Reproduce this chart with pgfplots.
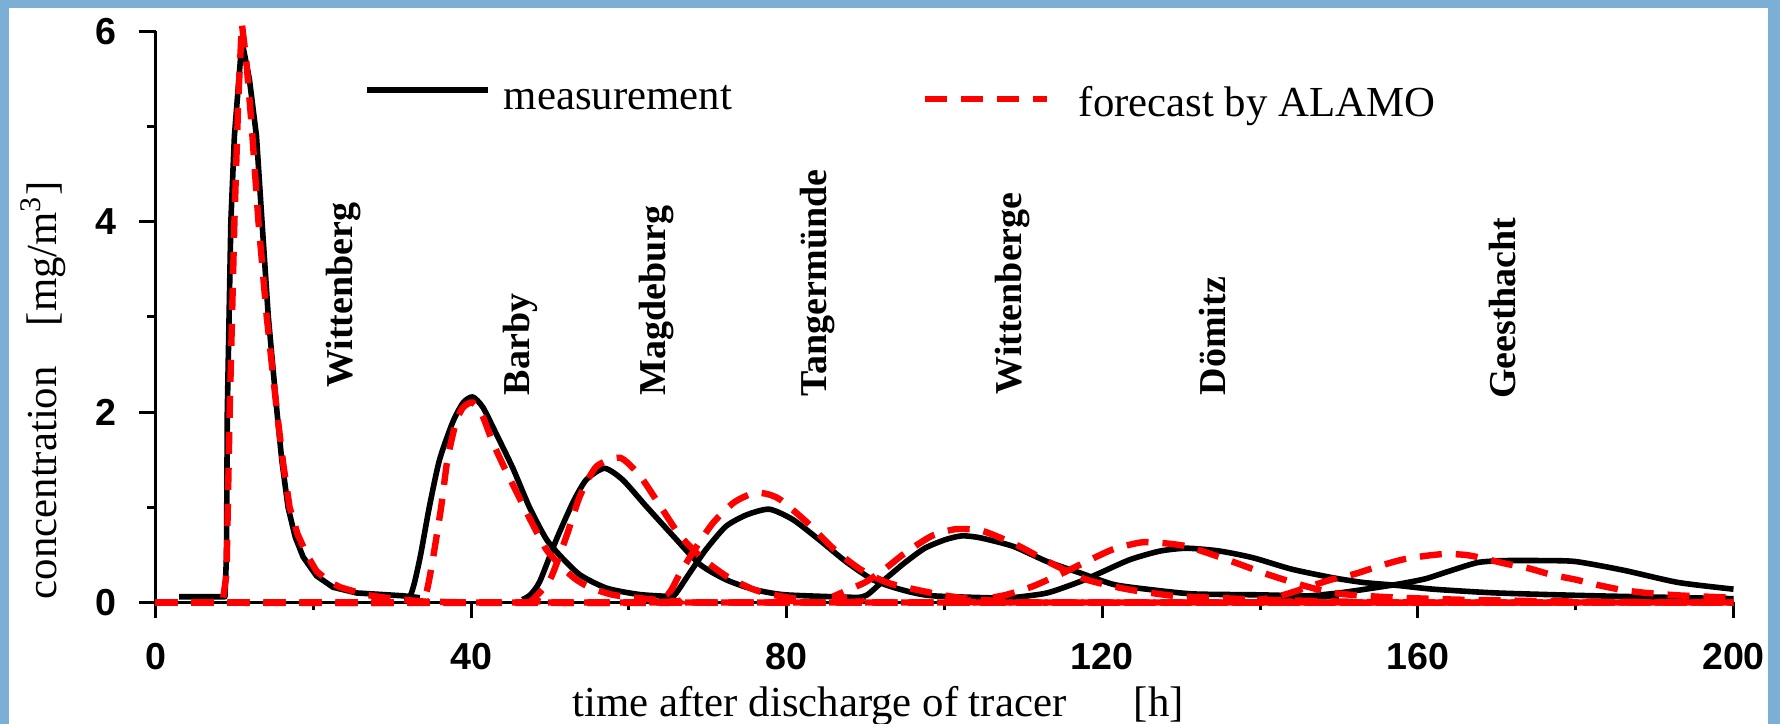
\documentclass[border=0pt]{standalone}
\usepackage{pgfplots}
\pgfplotsset{compat=1.18}
\usepackage{fontspec}
\setmainfont{Liberation Serif}
\newfontfamily\ticksans{Liberation Sans}
\definecolor{frameblue}{HTML}{7BAFD6}
\tikzset{
  meas/.style={black, line width=1.4pt, line join=round},
  fcst/.style={red, line width=1.6pt, dash pattern=on 5.5pt off 3.5pt},
  station/.style={rotate=90, anchor=base west, inner sep=0pt,
    font=\bfseries\fontsize{9.5}{10}\selectfont},
}
\begin{document}
\begin{tikzpicture}
% frame: 1780x724 px at 0.25pt per px
\fill[frameblue] (0,0) rectangle (445pt,181pt);
\fill[white] (2.25pt,0) rectangle (442pt,179.1pt);

\begin{axis}[
  at={(38.875pt,30.375pt)}, anchor=south west,
  scale only axis, width=394.5pt, height=142.75pt,
  xmin=0, xmax=200, ymin=0, ymax=6,
  axis lines=left, axis line style={-, line width=0.75pt},
  clip=false,
  xtick={0,40,...,200}, ytick={0,2,4,6},
  minor x tick num=1, minor y tick num=1,
  tick align=outside, major tick length=4pt, minor tick length=2pt,
  tick style={black, line width=0.75pt},
  ticklabel style={font=\ticksans\bfseries\fontsize{9.4}{10}\selectfont, inner sep=0pt},
  /pgf/number format/assume math mode=true,
  xticklabel style={anchor=north, yshift=-6pt},
  yticklabel style={anchor=east, xshift=-5.6pt},
]
% measurements
\addplot[meas] coordinates {(3,0.06) (8.8,0.06) (9.0,0.5) (9.1,2.0) (9.55,4.0) (10.0,4.9) (10.95,5.9) (11.9,5.5) (12.8,4.9) (13.5,4.0) (14.3,3.0) (15.4,2.0) (16.0,1.5) (16.8,1.0) (17.7,0.69) (18.7,0.48) (20.4,0.28) (22.5,0.16) (25.5,0.1) (31.4,0.07) (33.5,0.05)};
\addplot[meas, smooth, tension=0.4] coordinates {(31.5,0.03) (32.2,0.05) (32.8,0.2) (33.6,0.5) (34.7,1.0) (36,1.5) (37.7,1.9) (39,2.1) (40.2,2.16) (41.5,2.05) (43.2,1.77) (45.3,1.41) (47.4,1.0) (49.5,0.67) (51.3,0.49) (53.8,0.29) (57.2,0.15) (61.4,0.083) (66,0.06)};
\addplot[meas, smooth, tension=0.4] coordinates {(46.5,0.03) (47.5,0.08) (48.7,0.22) (50.8,0.66) (52.9,1.05) (54.6,1.29) (56.9,1.41) (59.2,1.29) (62.2,1.01) (65.6,0.70) (69,0.40) (72.3,0.24) (75.7,0.14) (79.9,0.08) (90,0.05)};
\addplot[meas, smooth, tension=0.4] coordinates {(64.5,0.04) (65.8,0.08) (67.7,0.31) (69.8,0.56) (72.3,0.80) (74.9,0.92) (77.8,0.98) (80.8,0.87) (84.1,0.66) (87.5,0.43) (90.9,0.24) (94.3,0.14) (98.5,0.07) (110,0.04)};
\addplot[meas, smooth, tension=0.4] coordinates {(88.5,0.04) (90.2,0.08) (92.4,0.24) (95,0.42) (97.5,0.57) (100.1,0.66) (102.2,0.70) (104.5,0.68) (108.7,0.59) (113,0.43) (117.2,0.31) (121.4,0.19) (125.6,0.14) (131.5,0.09) (140,0.08) (150,0.06)};
\addplot[meas, smooth, tension=0.4] coordinates {(107,0.03) (108.7,0.05) (113,0.10) (117.2,0.22) (119.7,0.31) (123.5,0.45) (127.3,0.54) (130.7,0.57) (134.9,0.54) (139.1,0.47) (144,0.35) (149.2,0.26) (153.1,0.21) (157.3,0.18) (161.9,0.14) (170,0.1) (182.5,0.07) (200,0.04)};
\addplot[meas, smooth, tension=0.4] coordinates {(140,0.03) (145,0.06) (150,0.1) (155,0.16) (158,0.2) (161,0.25) (164,0.33) (167.6,0.42) (171,0.44) (176,0.44) (180,0.43) (186,0.34) (193,0.21) (200,0.14)};
% forecasts by ALAMO
\addplot[fcst] coordinates {(0,0) (8.5,0) (9.0,0.3) (9.4,2.0) (10.0,4.0) (10.5,5.3) (10.95,6.08) (11.5,5.7) (12.2,5.0) (13.05,4.0) (14.1,3.0) (15.4,2.0) (16.2,1.45) (17.0,1.0) (18.0,0.72) (19.2,0.5) (20.4,0.33) (22,0.22) (23.4,0.16) (26.7,0.08) (30,0.04) (34,0.01) (40,0) (200,0)};
\addplot[fcst, smooth, tension=0.4] coordinates {(0,0) (33,0) (34.3,0.1) (35.2,0.48) (36.2,1.0) (37,1.5) (38.1,1.9) (39,2.05) (40.2,2.1) (41.5,1.95) (42.7,1.69) (44.2,1.42) (45.7,1.17) (47.5,0.87) (49.5,0.56) (51,0.42) (53,0.26) (55,0.16) (58,0.08) (62,0.04) (66,0.01) (70,0) (200,0)};
\addplot[fcst, smooth, tension=0.4] coordinates {(0,0) (47,0) (47.8,0.03) (50,0.24) (52.1,0.70) (53.8,1.12) (55.9,1.43) (58.9,1.52) (61.4,1.33) (64,1.01) (66.5,0.70) (69.5,0.45) (72.5,0.27) (75.7,0.14) (78.3,0.08) (82,0.03) (86,0) (200,0)};
\addplot[fcst, smooth, tension=0.4] coordinates {(0,0) (63,0) (65.1,0.1) (66.5,0.31) (68.6,0.59) (70.7,0.84) (73.3,1.05) (75.8,1.15) (77.5,1.14) (79.2,1.08) (82.6,0.84) (86,0.56) (89.3,0.35) (92.7,0.21) (96.1,0.14) (100.3,0.07) (104,0.03) (108,0) (200,0)};
\addplot[fcst, smooth, tension=0.4] coordinates {(0,0) (85,0) (86.1,0.07) (89.9,0.21) (92.4,0.35) (95,0.52) (98.4,0.70) (101.4,0.77) (104.4,0.76) (106.5,0.70) (109.5,0.59) (113.8,0.40) (118,0.24) (123.1,0.14) (129,0.07) (134,0.05) (140,0.03) (150,0.01) (160,0) (200,0)};
\addplot[fcst, smooth, tension=0.4] coordinates {(0,0) (103,0) (104.5,0.03) (107.8,0.08) (111.2,0.17) (115,0.31) (118,0.43) (121.4,0.56) (124.8,0.63) (126.9,0.63) (130.7,0.59) (135.8,0.45) (140.8,0.30) (145,0.19) (149.3,0.10) (155.2,0.06) (165,0.03) (180,0.01) (200,0)};
\addplot[fcst, smooth, tension=0.4] coordinates {(0,0) (136,0) (140,0.03) (143,0.08) (146,0.16) (149,0.24) (152,0.30) (155,0.38) (158,0.45) (161,0.49) (163.5,0.51) (166,0.50) (168,0.47) (171,0.41) (174,0.36) (177,0.29) (180,0.24) (183,0.18) (186,0.13) (189,0.10) (193,0.075) (197,0.06) (200,0.05)};
% station names
\node[station] at (axis cs:25.0,2.25) {Wittenberg};
\node[station] at (axis cs:47.4,2.17) {Barby};
\node[station] at (axis cs:64.6,2.17) {Magdeburg};
\node[station] at (axis cs:85.1,2.16) {Tangermünde};
\node[station] at (axis cs:109.8,2.18) {Wittenberge};
\node[station] at (axis cs:135.6,2.17) {Dömitz};
\node[station] at (axis cs:172.4,2.13) {Geesthacht};
\end{axis}

% legend
\draw[meas] (91.75pt,158.5pt) -- (122pt,158.5pt);
\node[anchor=base west, inner sep=0pt, font=\fontsize{10.7}{12}\selectfont] at (125.75pt,153.5pt) {measurement};
\draw[fcst] (231.25pt,156.25pt) -- (261.75pt,156.25pt);
\node[anchor=base west, inner sep=0pt, font=\fontsize{10.7}{12}\selectfont] at (269.5pt,151.75pt) {forecast by ALAMO};
% axis titles
\node[rotate=90, anchor=base west, inner sep=0pt, font=\fontsize{10.7}{12}\selectfont] at (14pt,31pt) {concentration};
\node[rotate=90, anchor=base east, inner sep=0pt, font=\fontsize{10.7}{12}\selectfont] at (14pt,136pt) {[mg/m\textsuperscript{3}]};
\node[anchor=base west, inner sep=0pt, font=\fontsize{10.7}{12}\selectfont] at (143pt,1.75pt) {time after discharge of tracer};
\node[anchor=base west, inner sep=0pt, font=\fontsize{10.7}{12}\selectfont] at (283.25pt,1.75pt) {[h]};
\pgfresetboundingbox
\path (0,0) rectangle (445pt,181pt);
\end{tikzpicture}
\end{document}
